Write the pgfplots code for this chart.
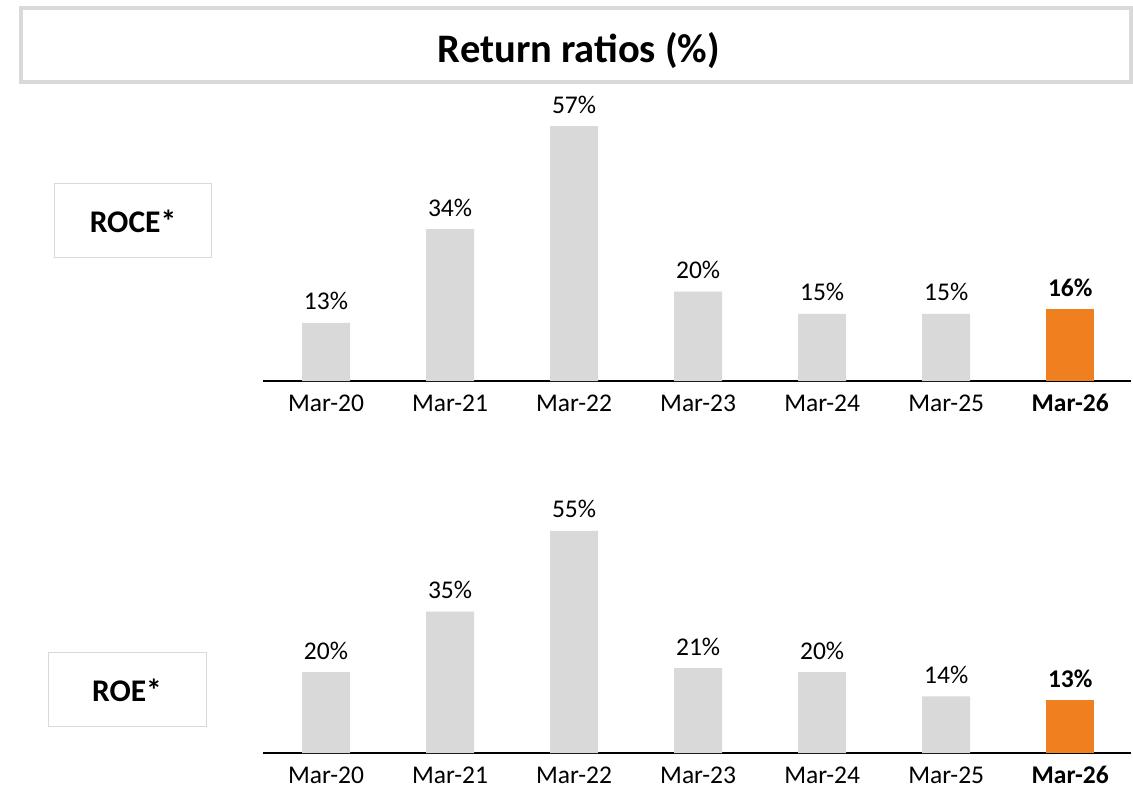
\documentclass[border=0pt]{standalone}
\usepackage{pgfplots}
\pgfplotsset{compat=1.18}
\usepackage{fontspec}
\setmainfont{Carlito}
\definecolor{barg}{HTML}{D9D9D9}
\definecolor{baro}{HTML}{EF7F1F}
\definecolor{boxg}{HTML}{D9D9D9}

\pgfplotsset{
  rr/.style={
    scale only axis, width=868pt,
    xmin=-0.508, xmax=6.49, ymin=0, ymax=60,
    axis x line=bottom, axis y line=none,
    x axis line style={-, black, line width=2pt},
    xtick={0,...,6},
    xticklabels={Mar-20,Mar-21,Mar-22,Mar-23,Mar-24,Mar-25,\textbf{Mar-26}},
    major tick length=0pt,
    /pgf/number format/assume math mode=true,
    xticklabel style={font=\fontsize{25.5}{30}\selectfont, anchor=base, yshift=-30pt, inner sep=0pt},
    ybar, bar width=48pt, bar shift=0pt,
    nodes near coords={\pgfmathprintnumber[assume math mode=true]{\pgfplotspointmeta}\%},
    nodes near coords style={font=\fontsize{25.5}{30}\selectfont, anchor=base, inner sep=0pt, yshift=13pt, text=black},
    clip=false,
  }
}

\begin{document}
\begin{tikzpicture}
\useasboundingbox (0,0) rectangle (1133pt,-788pt);
\fill[white] (0,0) rectangle (1133pt,-788pt);

% title box
\draw[boxg, line width=4pt] (21pt,-8pt) rectangle (1131pt,-82pt);
\node[anchor=base, font=\fontsize{40.5}{48}\selectfont\bfseries, inner sep=0pt] at (579pt,-62pt) {Return ratios (\%)};

% side boxes
\draw[boxg, line width=1.5pt] (54.5pt,-183.5pt) rectangle (211.5pt,-257.5pt);
\node[font=\fontsize{31.5}{36}\selectfont\bfseries, inner sep=0pt] at (133pt,-221pt) {ROCE*};
\draw[boxg, line width=1.5pt] (48.5pt,-652.5pt) rectangle (206.5pt,-726.5pt);
\node[font=\fontsize{31.5}{36}\selectfont\bfseries, inner sep=0pt] at (127pt,-690pt) {ROE*};

% ROCE
\begin{axis}[rr, at={(263pt,-381pt)}, anchor=south west, height=268.2pt]
\addplot[fill=barg, draw=none] coordinates {(0,13) (1,34) (2,57) (3,20) (4,15) (5,15)};
\addplot[fill=baro, draw=none, nodes near coords={\textbf{\pgfmathprintnumber[assume math mode=true]{\pgfplotspointmeta}\%}}] coordinates {(6,16)};
\end{axis}

% ROE
\begin{axis}[rr, at={(263pt,-753pt)}, anchor=south west, height=242.4pt]
\addplot[fill=barg, draw=none] coordinates {(0,20) (1,35) (2,55) (3,21) (4,20) (5,14)};
\addplot[fill=baro, draw=none, nodes near coords={\textbf{\pgfmathprintnumber[assume math mode=true]{\pgfplotspointmeta}\%}}] coordinates {(6,13)};
\end{axis}
\end{tikzpicture}
\end{document}
